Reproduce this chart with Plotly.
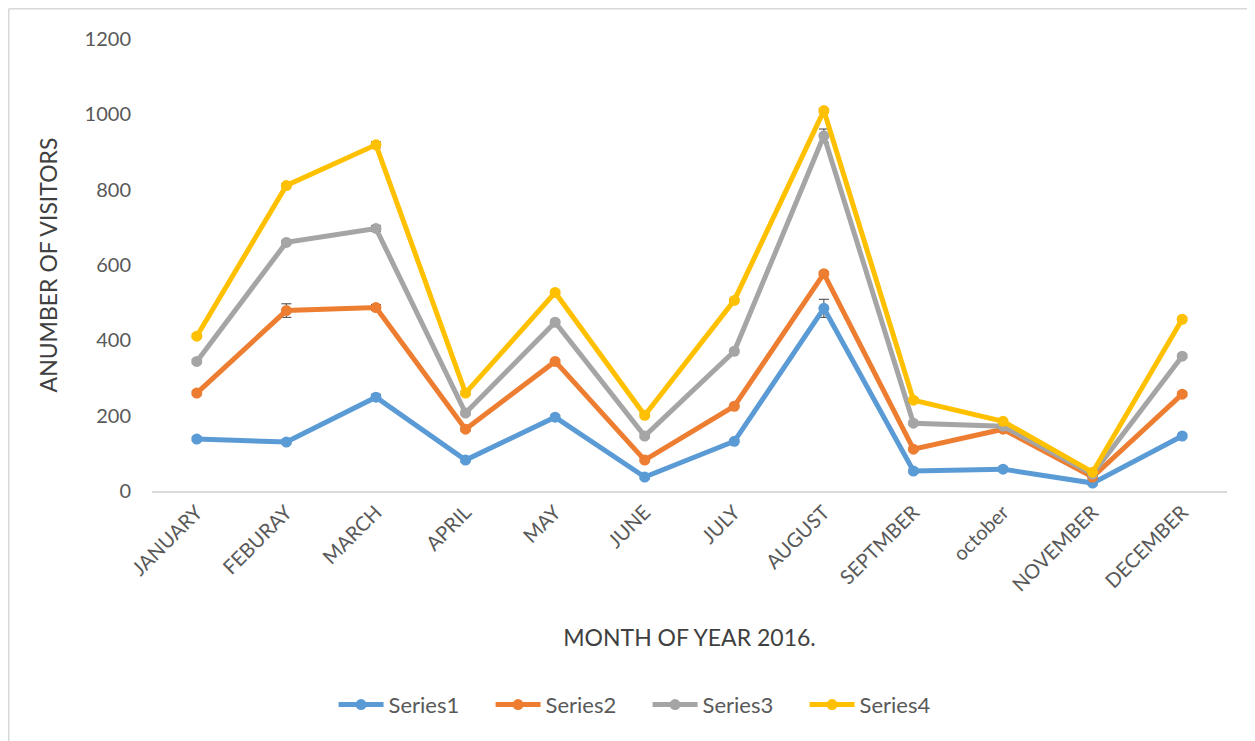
import plotly.graph_objects as go

months = ["JANUARY", "FEBURAY", "MARCH", "APRIL", "MAY", "JUNE", "JULY",
          "AUGUST", "SEPTMBER", "october", "NOVEMBER", "DECEMBER"]

series1 = [138, 130, 249, 82, 196, 37, 132, 485, 53, 58, 21, 146]
series2 = [260, 479, 487, 164, 344, 82, 225, 577, 111, 164, 37, 257]
series3 = [344, 660, 697, 207, 448, 146, 371, 943, 180, 172, 45, 358]
series4 = [411, 811, 919, 260, 527, 201, 506, 1010, 241, 185, 50, 456]

err1 = [5, 5, 8, 5, 5, 5, 5, 24, 5, 5, 5, 5]
err2 = [5, 18, 8, 5, 5, 5, 5, 5, 5, 5, 5, 5]
err3 = [5, 5, 8, 5, 5, 5, 5, 18, 5, 5, 5, 5]
err4 = [5, 5, 8, 5, 5, 5, 5, 5, 5, 5, 5, 5]

names = ["Series1", "Series2", "Series3", "Series4"]
colors = ["#5B9BD5", "#ED7D31", "#A5A5A5", "#FFC000"]
all_series = [series1, series2, series3, series4]
all_err = [err1, err2, err3, err4]

FONT = "Lato, Open Sans, sans-serif"

L, T, PW, PH = 144, 31, 1075, 452
W, H = 1255, 741

fig = go.Figure()
for name, col, ys, es in zip(names, colors, all_series, all_err):
    fig.add_trace(go.Scatter(
        x=months, y=ys, name=name, mode="lines+markers",
        line=dict(color=col, width=5),
        marker=dict(color=col, size=11),
        error_y=dict(type="data", array=es, visible=True,
                     color="#404040", thickness=1, width=5),
    ))

fig.update_layout(
    width=W, height=H,
    margin=dict(l=L, r=W - L - PW, t=T, b=H - T - PH),
    paper_bgcolor="white", plot_bgcolor="white",
    font=dict(family=FONT, color="#595959"),
    showlegend=True,
    legend=dict(orientation="h", x=0.461, xanchor="center", y=-0.473, yanchor="middle",
                font=dict(size=22, color="#595959"),
                itemwidth=45, entrywidth=97, entrywidthmode="pixels"),
    xaxis=dict(
        type="category", range=[-0.5, 11.5],
        showgrid=False, zeroline=False,
        showline=True, linecolor="#D9D9D9", linewidth=1.5,
        tickangle=-45, tickfont=dict(size=20, color="#595959"),
        ticks="",
        title=dict(text="MONTH OF YEAR 2016.", font=dict(size=23, color="#404040"), standoff=35),
    ),
    yaxis=dict(
        range=[0, 1200], dtick=200,
        showgrid=False, zeroline=False, showline=False,
        tickfont=dict(size=20, color="#595959"),
        ticklabelstandoff=20,
        title=dict(text="ANUMBER OF VISITORS", font=dict(size=23, color="#404040"), standoff=20),
    ),
    shapes=[
        dict(type="line", xref="paper", yref="paper",
             x0=(0.75 - L) / PW, x1=(0.75 - L) / PW,
             y0=(T + PH - 0.75) / PH, y1=(T + PH - H - 10) / PH,
             line=dict(color="#D9D9D9", width=1.5)),
        dict(type="line", xref="paper", yref="paper",
             x0=(0.75 - L) / PW, x1=(W + 10 - L) / PW,
             y0=(T + PH - 0.75) / PH, y1=(T + PH - 0.75) / PH,
             line=dict(color="#D9D9D9", width=1.5)),
    ],
)

fig.write_html("out.html")
